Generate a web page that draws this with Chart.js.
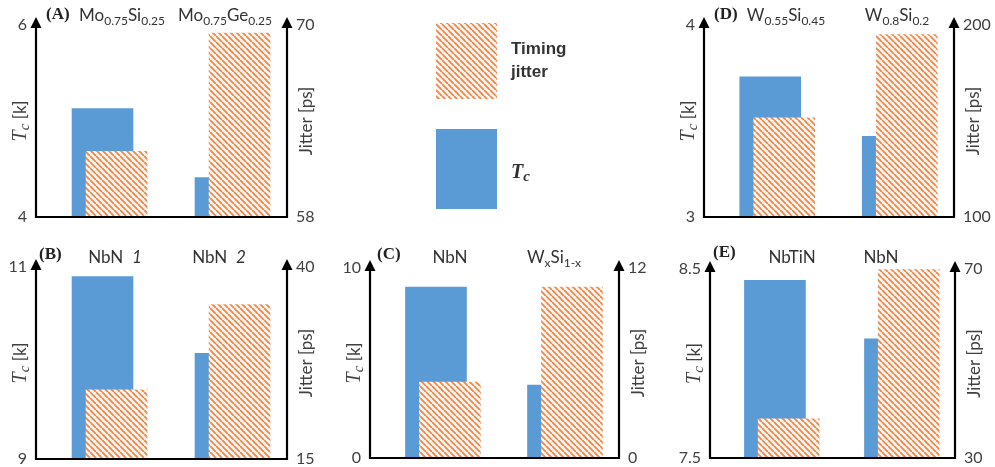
<!DOCTYPE html>
<html>
<head>
<meta charset="utf-8">
<script src="https://cdn.jsdelivr.net/npm/chart.js@4.4.1/dist/chart.umd.min.js"></script>
<style>
  html, body { margin: 0; padding: 0; background: #fff; }
  #page { position: relative; width: 995px; height: 467px; overflow: hidden; }
  .panel { position: absolute; }
</style>
</head>
<body>
<div id="page">
  <div class="panel" style="left:0;top:0;width:330px;height:230px"><canvas id="chartA"></canvas></div>
  <div class="panel" style="left:660px;top:0;width:335px;height:230px"><canvas id="chartD"></canvas></div>
  <div class="panel" style="left:0;top:230px;width:330px;height:237px"><canvas id="chartB"></canvas></div>
  <div class="panel" style="left:330px;top:230px;width:330px;height:237px"><canvas id="chartC"></canvas></div>
  <div class="panel" style="left:660px;top:230px;width:335px;height:237px"><canvas id="chartE"></canvas></div>
  <canvas id="legend" class="panel" style="left:400px;top:0" width="260" height="230"></canvas>
</div>
<script>
// ===== DATA =====
// _{..} = subscript, *..* = italic
const labelsA = ['Mo_{0.75}Si_{0.25}', 'Mo_{0.75}Ge_{0.25}'];
const tcA = [5.13, 4.41];
const jitterA = [62.1, 69.5];
const tcTicksA = [4, 6];
const jitterTicksA = [58, 70];

const labelsB = ['NbN  *1*', 'NbN  *2*'];
const tcB = [10.9, 10.1];
const jitterB = [24.0, 35.1];
const tcTicksB = [9, 11];
const jitterTicksB = [15, 40];

const labelsC = ['NbN', 'W_{x}Si_{1-x}'];
const tcC = [9.0, 3.84];
const jitterC = [4.8, 10.8];
const tcTicksC = [0, 10];
const jitterTicksC = [0, 12];

const labelsD = ['W_{0.55}Si_{0.45}', 'W_{0.8}Si_{0.2}'];
const tcD = [3.73, 3.42];
const jitterD = [151.7, 195];
const tcTicksD = [3, 4];
const jitterTicksD = [100, 200];

const labelsE = ['NbTiN', 'NbN'];
const tcE = [8.44, 8.13];
const jitterE = [38.3, 69.9];
const tcTicksE = [7.5, 8.5];
const jitterTicksE = [30, 70];

// ===== LAYOUT =====
const GROUP_POS = [0.53, 1.51];   // Tc bar centres on the 0..2 x scale
const HATCH_SHIFT = 0.112;        // jitter bar sits a bit to the right
const BAR_WIDTH = 61;
const BLUE = '#5b9bd5';
const TEXT = '#404040';
const SANS = 'Lato, "Open Sans", sans-serif';
const SERIF = '"Liberation Serif", "DejaVu Serif", serif';

// diagonal orange hatch
function makeHatch() {
  const s = 6;
  const c = document.createElement('canvas');
  c.width = s; c.height = s;
  const g = c.getContext('2d');
  g.fillStyle = '#fff6ee';
  g.fillRect(0, 0, s, s);
  g.strokeStyle = '#ee8a4d';
  g.lineWidth = 1.9;
  g.beginPath();
  [-s, 0, s].forEach(k => { g.moveTo(k, 0); g.lineTo(k + s, s); });
  g.stroke();
  return g.createPattern(c, 'repeat');
}
const hatch = makeHatch();

// ===== TEXT HELPERS =====
function richRuns(str, size) {
  const runs = [];
  str.replace(/_\{([^}]*)\}|\*([^*]*)\*|([^_*]+)/g, (m, sub, ital, plain) => {
    if (sub !== undefined) runs.push({ text: sub, font: `${Math.round(size * 0.7)}px ${SANS}`, dy: size * 0.32 });
    else if (ital !== undefined) runs.push({ text: ital, font: `italic ${size}px ${SANS}`, dy: 0 });
    else runs.push({ text: plain, font: `${size}px ${SANS}`, dy: 0 });
  });
  return runs;
}

function drawRuns(ctx, runs, x, y, align) {
  let w = 0;
  runs.forEach(r => { ctx.font = r.font; r.w = ctx.measureText(r.text).width; w += r.w; });
  let cx = align === 'center' ? x - w / 2 : x;
  ctx.textAlign = 'left';
  ctx.textBaseline = 'middle';
  runs.forEach(r => { ctx.font = r.font; ctx.fillText(r.text, cx, y + r.dy); cx += r.w; });
}

function tcRuns(size) {
  return [
    { text: 'T', font: `italic ${size + 3}px ${SERIF}`, dy: 0 },
    { text: 'c', font: `italic ${size - 2}px ${SERIF}`, dy: 4 },
    { text: ' [k]', font: `${size}px ${SANS}`, dy: 0 }
  ];
}

// ===== AXES, ARROWS, LABELS =====
const panelDecor = {
  id: 'panelDecor',
  afterDraw(chart, args, o) {
    const { ctx, chartArea: { left, right, top, bottom } } = chart;
    ctx.save();
    ctx.strokeStyle = '#000';
    ctx.fillStyle = '#000';
    ctx.lineWidth = 2.2;
    ctx.beginPath();
    ctx.moveTo(left, top + 2);
    ctx.lineTo(left, bottom);
    ctx.lineTo(right, bottom);
    ctx.lineTo(right, top + 2);
    ctx.stroke();
    [left, right].forEach(x => {
      ctx.beginPath();
      ctx.moveTo(x, top - 8);
      ctx.lineTo(x - 5.5, top + 3);
      ctx.lineTo(x + 5.5, top + 3);
      ctx.closePath();
      ctx.fill();
    });

    // rotated axis titles
    const midY = (top + bottom) / 2;
    ctx.fillStyle = TEXT;
    ctx.save();
    ctx.translate(left - 15, midY);
    ctx.rotate(-Math.PI / 2);
    drawRuns(ctx, tcRuns(17), 0, 0, 'center');
    ctx.restore();
    ctx.save();
    ctx.translate(right + 20, midY);
    ctx.rotate(-Math.PI / 2);
    drawRuns(ctx, [{ text: 'Jitter [ps]', font: `17px ${SANS}`, dy: 0 }], 0, 0, 'center');
    ctx.restore();

    // panel tag and material names
    ctx.fillStyle = '#222';
    ctx.font = `bold 17px ${SERIF}`;
    ctx.textAlign = 'left';
    ctx.textBaseline = 'middle';
    ctx.fillText(o.tag, o.tagX, o.tagY);
    ctx.fillStyle = '#333';
    o.labels.forEach((lab, i) => drawRuns(ctx, richRuns(lab, 17), o.labelX[i], o.labelY, 'center'));
    ctx.restore();
  }
};

// ===== PANELS =====
const panels = [
  { id: 'chartA', tag: '(A)', labels: labelsA, tc: tcA, jitter: jitterA, tcTicks: tcTicksA, jitterTicks: jitterTicksA,
    box: { left: 36, right: 43, top: 25, bottom: 13 }, tagX: 46, tagY: 15, labelX: [122, 225], labelY: 16 },
  { id: 'chartD', tag: '(D)', labels: labelsD, tc: tcD, jitter: jitterD, tcTicks: tcTicksD, jitterTicks: jitterTicksD,
    box: { left: 44, right: 41, top: 25, bottom: 13 }, tagX: 54, tagY: 15, labelX: [126, 237], labelY: 16 },
  { id: 'chartB', tag: '(B)', labels: labelsB, tc: tcB, jitter: jitterB, tcTicks: tcTicksB, jitterTicks: jitterTicksB,
    box: { left: 36, right: 43, top: 37, bottom: 8 }, tagX: 39, tagY: 25, labelX: [115, 219], labelY: 28 },
  { id: 'chartC', tag: '(C)', labels: labelsC, tc: tcC, jitter: jitterC, tcTicks: tcTicksC, jitterTicks: jitterTicksC,
    box: { left: 40, right: 41, top: 38, bottom: 9 }, tagX: 47, tagY: 25, labelX: [120, 224], labelY: 28 },
  { id: 'chartE', tag: '(E)', labels: labelsE, tc: tcE, jitter: jitterE, tcTicks: tcTicksE, jitterTicks: jitterTicksE,
    box: { left: 50, right: 40, top: 39, bottom: 9 }, tagX: 53, tagY: 23, labelX: [132, 221], labelY: 28 }
];

function yAxis(position, ticks, width) {
  return {
    position,
    min: ticks[0],
    max: ticks[ticks.length - 1],
    afterBuildTicks: s => { s.ticks = ticks.map(v => ({ value: v })); },
    afterFit: s => {
      s.width = width;
      // keep the plot box exactly where the layout padding puts it
      s.paddingTop = 0;
      s.paddingBottom = 0;
    },
    grid: { display: false, drawTicks: false },
    border: { display: false },
    ticks: { padding: 9, color: TEXT, font: { family: SANS, size: 16 }, callback: v => String(v) }
  };
}

panels.forEach(p => {
  new Chart(document.getElementById(p.id), {
    type: 'bar',
    data: {
      datasets: [
        {
          label: 'Timing jitter',
          data: p.jitter.map((v, i) => ({ x: GROUP_POS[i] + HATCH_SHIFT, y: v })),
          yAxisID: 'y1',
          backgroundColor: hatch,
          grouped: false,
          barThickness: BAR_WIDTH,
          order: 0
        },
        {
          label: 'Tc',
          data: p.tc.map((v, i) => ({ x: GROUP_POS[i], y: v })),
          yAxisID: 'y',
          backgroundColor: BLUE,
          grouped: false,
          barThickness: BAR_WIDTH,
          order: 1
        }
      ]
    },
    options: {
      responsive: true,
      maintainAspectRatio: false,
      animation: false,
      layout: { padding: { top: p.box.top, bottom: p.box.bottom, left: 0, right: 0 } },
      scales: {
        x: { type: 'linear', min: 0, max: 2, offset: false, display: false },
        y: yAxis('left', p.tcTicks, p.box.left),
        y1: yAxis('right', p.jitterTicks, p.box.right)
      },
      plugins: {
        legend: { display: false },
        tooltip: { enabled: false },
        panelDecor: { tag: p.tag, tagX: p.tagX, tagY: p.tagY, labels: p.labels, labelX: p.labelX, labelY: p.labelY }
      }
    },
    plugins: [panelDecor]
  });
});

// ===== LEGEND =====
(function drawLegend() {
  const ctx = document.getElementById('legend').getContext('2d');
  ctx.fillStyle = hatch;
  ctx.fillRect(36, 23, 61, 76);
  ctx.fillStyle = BLUE;
  ctx.fillRect(36, 129, 61, 80);
  ctx.fillStyle = '#333';
  ctx.font = `bold 17px "Liberation Sans", Arial, sans-serif`;
  ctx.textAlign = 'left';
  ctx.textBaseline = 'middle';
  ctx.fillText('Timing', 111, 49);
  ctx.fillText('jitter', 111, 72);
  drawRuns(ctx, [
    { text: 'T', font: `bold italic 20px ${SERIF}`, dy: 0 },
    { text: 'c', font: `bold italic 15px ${SERIF}`, dy: 4 }
  ], 111, 173, 'left');
})();
</script>
</body>
</html>
